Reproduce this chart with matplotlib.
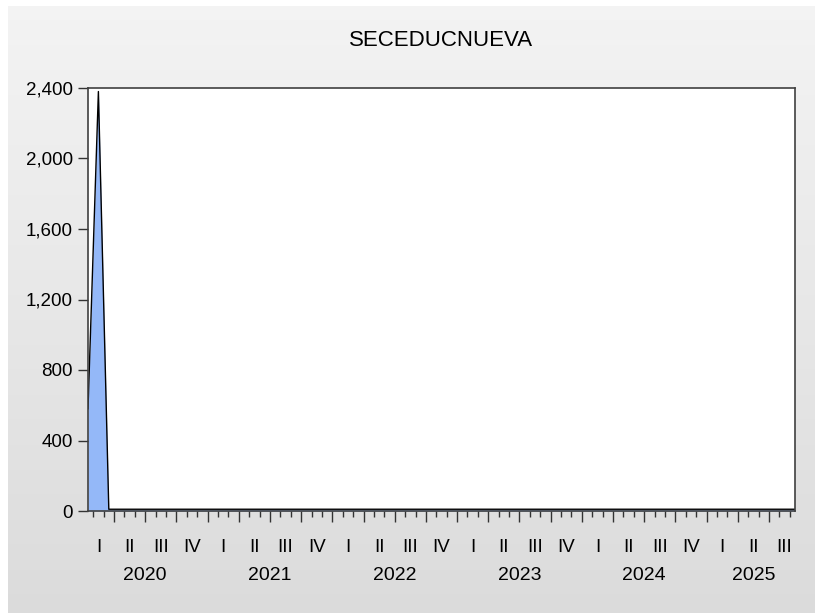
import numpy as np
import matplotlib
matplotlib.use("Agg")
import matplotlib.pyplot as plt
import matplotlib.transforms as mtransforms

plt.rcParams['font.family'] = ['Liberation Sans', 'DejaVu Sans']

# monthly observations Jan 2020 .. Sep 2025
values = [580, 2380, 10,
          10, 10, 10, 10, 10, 10, 10, 10, 10,
          10, 10, 10, 10, 10, 10, 10, 10, 10, 10, 10, 10,
          10, 10, 10, 10, 10, 10, 10, 10, 10, 10, 10, 10,
          10, 10, 10, 10, 10, 10, 10, 10, 10, 10, 10, 10,
          10, 10, 10, 10, 10, 10, 10, 10, 10, 10, 10, 10,
          10, 10, 10, 10, 10, 10, 10, 10, 10]
years = ['2020', '2021', '2022', '2023', '2024', '2025']
quarters = ['I', 'II', 'III', 'IV']
yticks = [0, 400, 800, 1200, 1600, 2000, 2400]
title = 'SECEDUCNUEVA'

W, H = 817, 613
fig = plt.figure(figsize=(W / 100, H / 100), dpi=100, facecolor='white')

# gray gradient panel behind everything
bg = fig.add_axes([8 / W, 0, (815 - 8) / W, (613 - 6) / H], zorder=-1)
grad = np.linspace(0.955, 0.86, 256).reshape(-1, 1)
bg.imshow(np.dstack([grad, grad, grad]), aspect='auto', extent=[0, 1, 0, 1])
bg.axis('off')

ax = fig.add_axes([88 / W, 1 - 511 / H, (795 - 88) / W, (511 - 88) / H])
ax.set_facecolor('white')

x = np.arange(len(values))
ax.fill_between(x, values, 0, color='#94b8f8', lw=0)
ax.plot(x, values, color='black', lw=1.0)

ax.set_xlim(0, len(values) - 1)
ax.set_ylim(0, 2400)
ax.set_yticks(yticks)
ax.set_yticklabels([f'{v:,}' for v in yticks])
ax.tick_params(axis='y', direction='out', length=7, width=1, pad=4, labelsize=13.5, color='#333333')

for s in ax.spines.values():
    s.set_color('#404040')
    s.set_linewidth(1.2)

# month boundary ticks (long at quarter boundaries)
bounds = np.arange(len(values) - 1) + 0.5
major = [b for b in bounds if (b + 0.5) % 3 == 0]
minor = [b for b in bounds if (b + 0.5) % 3 != 0]
ax.set_xticks(major)
ax.set_xticks(minor, minor=True)
ax.set_xticklabels([])
ax.tick_params(axis='x', which='major', direction='out', length=8, width=1, color='#333333')
ax.tick_params(axis='x', which='minor', direction='out', length=4.5, width=1, color='#333333')

trans = mtransforms.blended_transform_factory(ax.transData, ax.transAxes)
off_q = mtransforms.offset_copy(trans, fig=fig, x=0, y=-36, units='dots')
off_y = mtransforms.offset_copy(trans, fig=fig, x=0, y=-65, units='dots')
n = len(values)
for q in range(0, n, 3):
    ax.text(q + 1, 0, quarters[(q // 3) % 4], transform=off_q,
            ha='center', va='center', fontsize=13.5)
for i, yr in enumerate(years):
    start = i * 12
    end = min(start + 11, n - 1)
    ax.text((start + end) / 2, 0, yr, transform=off_y,
            ha='center', va='center', fontsize=14)

fig.text((88 + 795) / 2 / W, 1 - 41 / H, title, ha='center', va='center', fontsize=16)

fig.savefig('out.png', dpi=100, facecolor=fig.get_facecolor())
